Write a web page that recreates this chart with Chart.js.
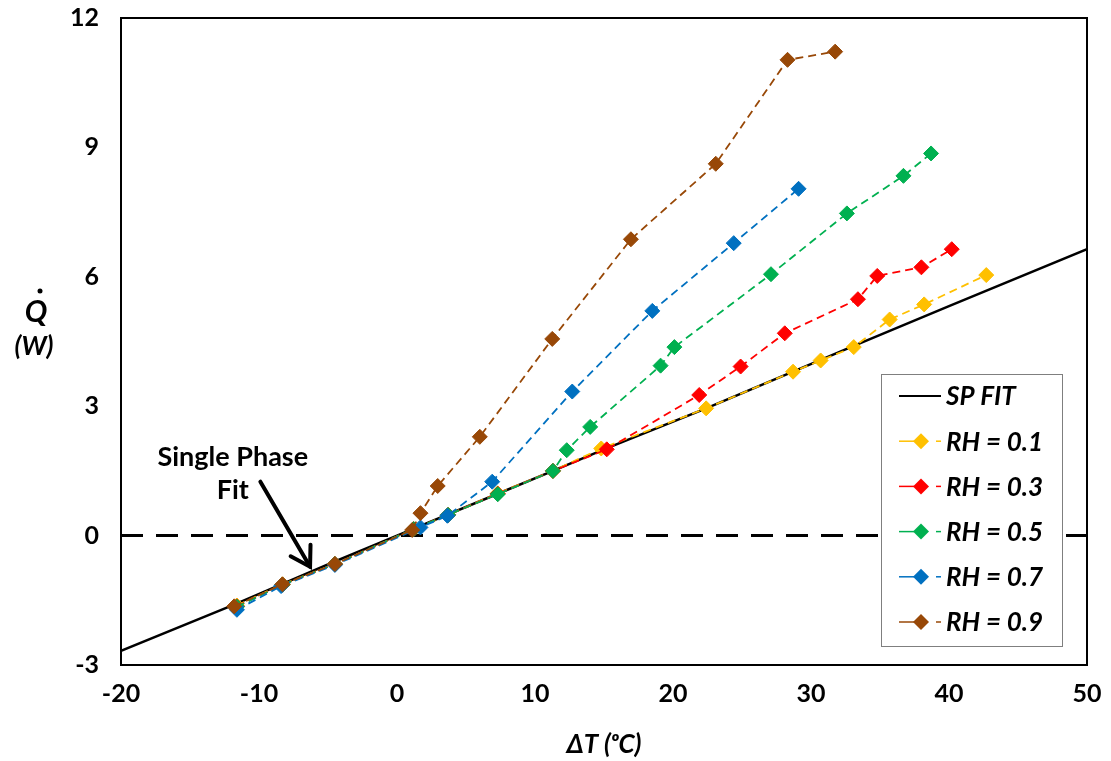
<!DOCTYPE html>
<html>
<head>
<meta charset="utf-8">
<script src="https://cdn.jsdelivr.net/npm/chart.js@4.4.1/dist/chart.umd.min.js"></script>
<style>
  body { margin: 0; background: #fff; }
  #wrap { width: 1111px; height: 761px; position: relative; }
</style>
</head>
<body>
<div id="wrap"><canvas id="chart"></canvas></div>
<script>
// values
const fitX = [-20, -11.8, -8.3, -4.5, 0, 7.3, 11.3, 15, 22.4, 28.7, 33.1, 40, 50];
const fitY = [-2.67, -1.6, -1.12, -0.6, 0, 0.97, 1.5, 2.0, 2.95, 3.8, 4.4, 5.32, 6.64];

const rh1X = [-11.6, -8.3, -4.5, 1.2, 3.7, 7.3, 11.3, 14.8, 22.4, 28.7, 30.7, 33.1, 35.7, 38.2, 42.7];
const rh1Y = [-1.62, -1.13, -0.66, 0.15, 0.48, 0.98, 1.5, 2.02, 2.95, 3.8, 4.06, 4.37, 5.01, 5.36, 6.04];

const rh3X = [-11.6, -8.3, -4.5, 1.2, 3.7, 7.3, 11.3, 15.2, 21.9, 24.9, 28.1, 33.4, 34.8, 38.0, 40.2];
const rh3Y = [-1.64, -1.14, -0.66, 0.15, 0.48, 0.97, 1.5, 2.0, 3.26, 3.92, 4.69, 5.48, 6.02, 6.22, 6.64];

const rh5X = [-11.6, -8.3, -4.5, 1.2, 3.7, 7.3, 11.3, 12.3, 14.0, 19.1, 20.1, 27.1, 32.6, 36.7, 38.7];
const rh5Y = [-1.65, -1.14, -0.66, 0.15, 0.48, 0.96, 1.5, 1.98, 2.52, 3.94, 4.37, 6.06, 7.47, 8.34, 8.86];

const rh7X = [-11.6, -8.4, -4.5, 1.7, 3.65, 6.9, 12.7, 18.5, 24.4, 29.1];
const rh7Y = [-1.72, -1.17, -0.68, 0.19, 0.46, 1.25, 3.34, 5.21, 6.78, 8.04];

const rh9X = [-11.8, -8.3, -4.5, 1.1, 1.7, 2.95, 6.0, 11.25, 16.95, 23.1, 28.3, 31.75];
const rh9Y = [-1.64, -1.13, -0.66, 0.13, 0.52, 1.15, 2.29, 4.56, 6.87, 8.62, 11.03, 11.22];

const zeroX = [-20, 50];
const zeroY = [0, 0];

const xTicks = [-20, -10, 0, 10, 20, 30, 40, 50];
const yTicks = [-3, 0, 3, 6, 9, 12];

const toPts = (xs, ys) => xs.map((x, i) => ({ x: x, y: ys[i] }));

const FONT = "Lato, 'Open Sans', sans-serif";

function rhSet(label, xs, ys, color, order) {
  return {
    label: label,
    data: toPts(xs, ys),
    borderColor: color,
    backgroundColor: color,
    borderWidth: 1.8,
    borderDash: [8, 5],
    pointStyle: 'rectRot',
    pointRadius: 7.5,
    pointBorderWidth: 1,
    pointBorderColor: color,
    pointBackgroundColor: color,
    order: order
  };
}

const datasets = [
  {
    label: 'zero',
    data: toPts(zeroX, zeroY),
    borderColor: '#000',
    borderWidth: 3,
    borderDash: [22, 13],
    pointRadius: 0,
    order: 7
  },
  {
    label: 'SP FIT',
    data: toPts(fitX, fitY),
    borderColor: '#000',
    borderWidth: 2.5,
    pointRadius: 0,
    order: 6
  },
  rhSet('RH = 0.1', rh1X, rh1Y, '#FFC000', 5),
  rhSet('RH = 0.3', rh3X, rh3Y, '#FF0000', 4),
  rhSet('RH = 0.5', rh5X, rh5Y, '#00B050', 3),
  rhSet('RH = 0.7', rh7X, rh7Y, '#0070C0', 2),
  rhSet('RH = 0.9', rh9X, rh9Y, '#984807', 1)
];

// frame, legend box, annotation and vertical-axis label
const decor = {
  id: 'decor',
  afterDatasetsDraw(chart) {
    const ctx = chart.ctx;
    const a = chart.chartArea;
    const xs = chart.scales.x, ys = chart.scales.y;
    ctx.save();

    // plot frame
    ctx.strokeStyle = '#000';
    ctx.lineWidth = 2;
    ctx.strokeRect(a.left, a.top, a.right - a.left, a.bottom - a.top);

    // legend
    const lx = 881, ly = 374, lw = 181, lh = 272;
    ctx.fillStyle = '#fff';
    ctx.fillRect(lx, ly, lw, lh);
    ctx.strokeStyle = '#7f7f7f';
    ctx.lineWidth = 1;
    ctx.strokeRect(lx + 0.5, ly + 0.5, lw, lh);
    ctx.font = "italic bold 26px " + FONT;
    ctx.textBaseline = 'middle';
    ctx.textAlign = 'left';
    let row = 0;
    chart.data.datasets.forEach(ds => {
      if (ds.label === 'zero') return;
      const y = 396 + row * 45.2;
      if (ds.pointRadius === 0) {
        ctx.strokeStyle = ds.borderColor;
        ctx.lineWidth = 2;
        ctx.beginPath(); ctx.moveTo(899, y); ctx.lineTo(941, y); ctx.stroke();
      } else {
        ctx.strokeStyle = ds.borderColor;
        ctx.lineWidth = 1.5;
        ctx.beginPath(); ctx.moveTo(899, y); ctx.lineTo(914, y); ctx.stroke();
        ctx.beginPath(); ctx.moveTo(936, y); ctx.lineTo(941, y); ctx.stroke();
        ctx.fillStyle = ds.borderColor;
        ctx.beginPath();
        ctx.moveTo(921 - 8, y); ctx.lineTo(921, y - 8);
        ctx.lineTo(921 + 8, y); ctx.lineTo(921, y + 8);
        ctx.closePath(); ctx.fill();
      }
      ctx.fillStyle = '#000';
      ctx.fillText(ds.label, 946, y + 1);
      row++;
    });

    // "Single Phase Fit" note with arrow
    ctx.fillStyle = '#000';
    ctx.font = "bold 27px " + FONT;
    ctx.textAlign = 'center';
    ctx.fillText('Single Phase', xs.getPixelForValue(-11.9), ys.getPixelForValue(1.81));
    ctx.fillText('Fit', xs.getPixelForValue(-11.9), ys.getPixelForValue(1.05));
    const tx = xs.getPixelForValue(-9.9), ty = ys.getPixelForValue(1.25);
    const hx = xs.getPixelForValue(-6.3), hy = ys.getPixelForValue(-0.72);
    ctx.strokeStyle = '#000';
    ctx.lineWidth = 4;
    ctx.lineCap = 'round';
    ctx.beginPath(); ctx.moveTo(tx, ty); ctx.lineTo(hx, hy); ctx.stroke();
    const ang = Math.atan2(hy - ty, hx - tx);
    ctx.beginPath();
    ctx.moveTo(hx - 22 * Math.cos(ang - 0.55), hy - 22 * Math.sin(ang - 0.55));
    ctx.lineTo(hx, hy);
    ctx.lineTo(hx - 22 * Math.cos(ang + 0.55), hy - 22 * Math.sin(ang + 0.55));
    ctx.stroke();

    // y-axis label
    ctx.font = "italic bold 30px " + FONT;
    ctx.fillStyle = '#000';
    ctx.fillText('Q', 36, 312);
    ctx.beginPath(); ctx.arc(40, 291, 2.5, 0, Math.PI * 2); ctx.fill();
    ctx.font = "italic bold 26px " + FONT;
    ctx.fillText('(W)', 34, 347);
    ctx.restore();
  }
};

// drop the extra edge padding Chart.js reserves for end labels
function noEdgePad(s) {
  s.paddingTop = 0; s.paddingBottom = 0;
  s.paddingLeft = 0; s.paddingRight = 0;
}

new Chart(document.getElementById('chart'), {
  type: 'line',
  data: { datasets: datasets },
  options: {
    responsive: true,
    maintainAspectRatio: false,
    animation: false,
    layout: { padding: { left: 0, right: 24, top: 18, bottom: 0 } },
    plugins: { legend: { display: false }, tooltip: { enabled: false } },
    scales: {
      x: {
        type: 'linear',
        min: -20, max: 50,
        afterFit: s => { s.height = 96; noEdgePad(s); },
        afterBuildTicks: s => { s.ticks = xTicks.map(v => ({ value: v })); },
        grid: { display: false, drawTicks: false },
        border: { display: false },
        ticks: { padding: 14, color: '#000', font: { family: FONT, size: 25, weight: 'bold' } },
        title: {
          display: true, text: 'ΔT (ᵒC)', color: '#000',
          font: { family: FONT, size: 26, weight: 'bold', style: 'italic' },
          padding: { top: 0, bottom: 1 }
        }
      },
      y: {
        type: 'linear',
        min: -3, max: 12,
        afterFit: s => { s.width = 121; noEdgePad(s); },
        afterBuildTicks: s => { s.ticks = yTicks.map(v => ({ value: v })); },
        grid: { display: false, drawTicks: false },
        border: { display: false },
        ticks: { padding: 22, color: '#000', font: { family: FONT, size: 25, weight: 'bold' } }
      }
    }
  },
  plugins: [decor]
});
</script>
</body>
</html>
